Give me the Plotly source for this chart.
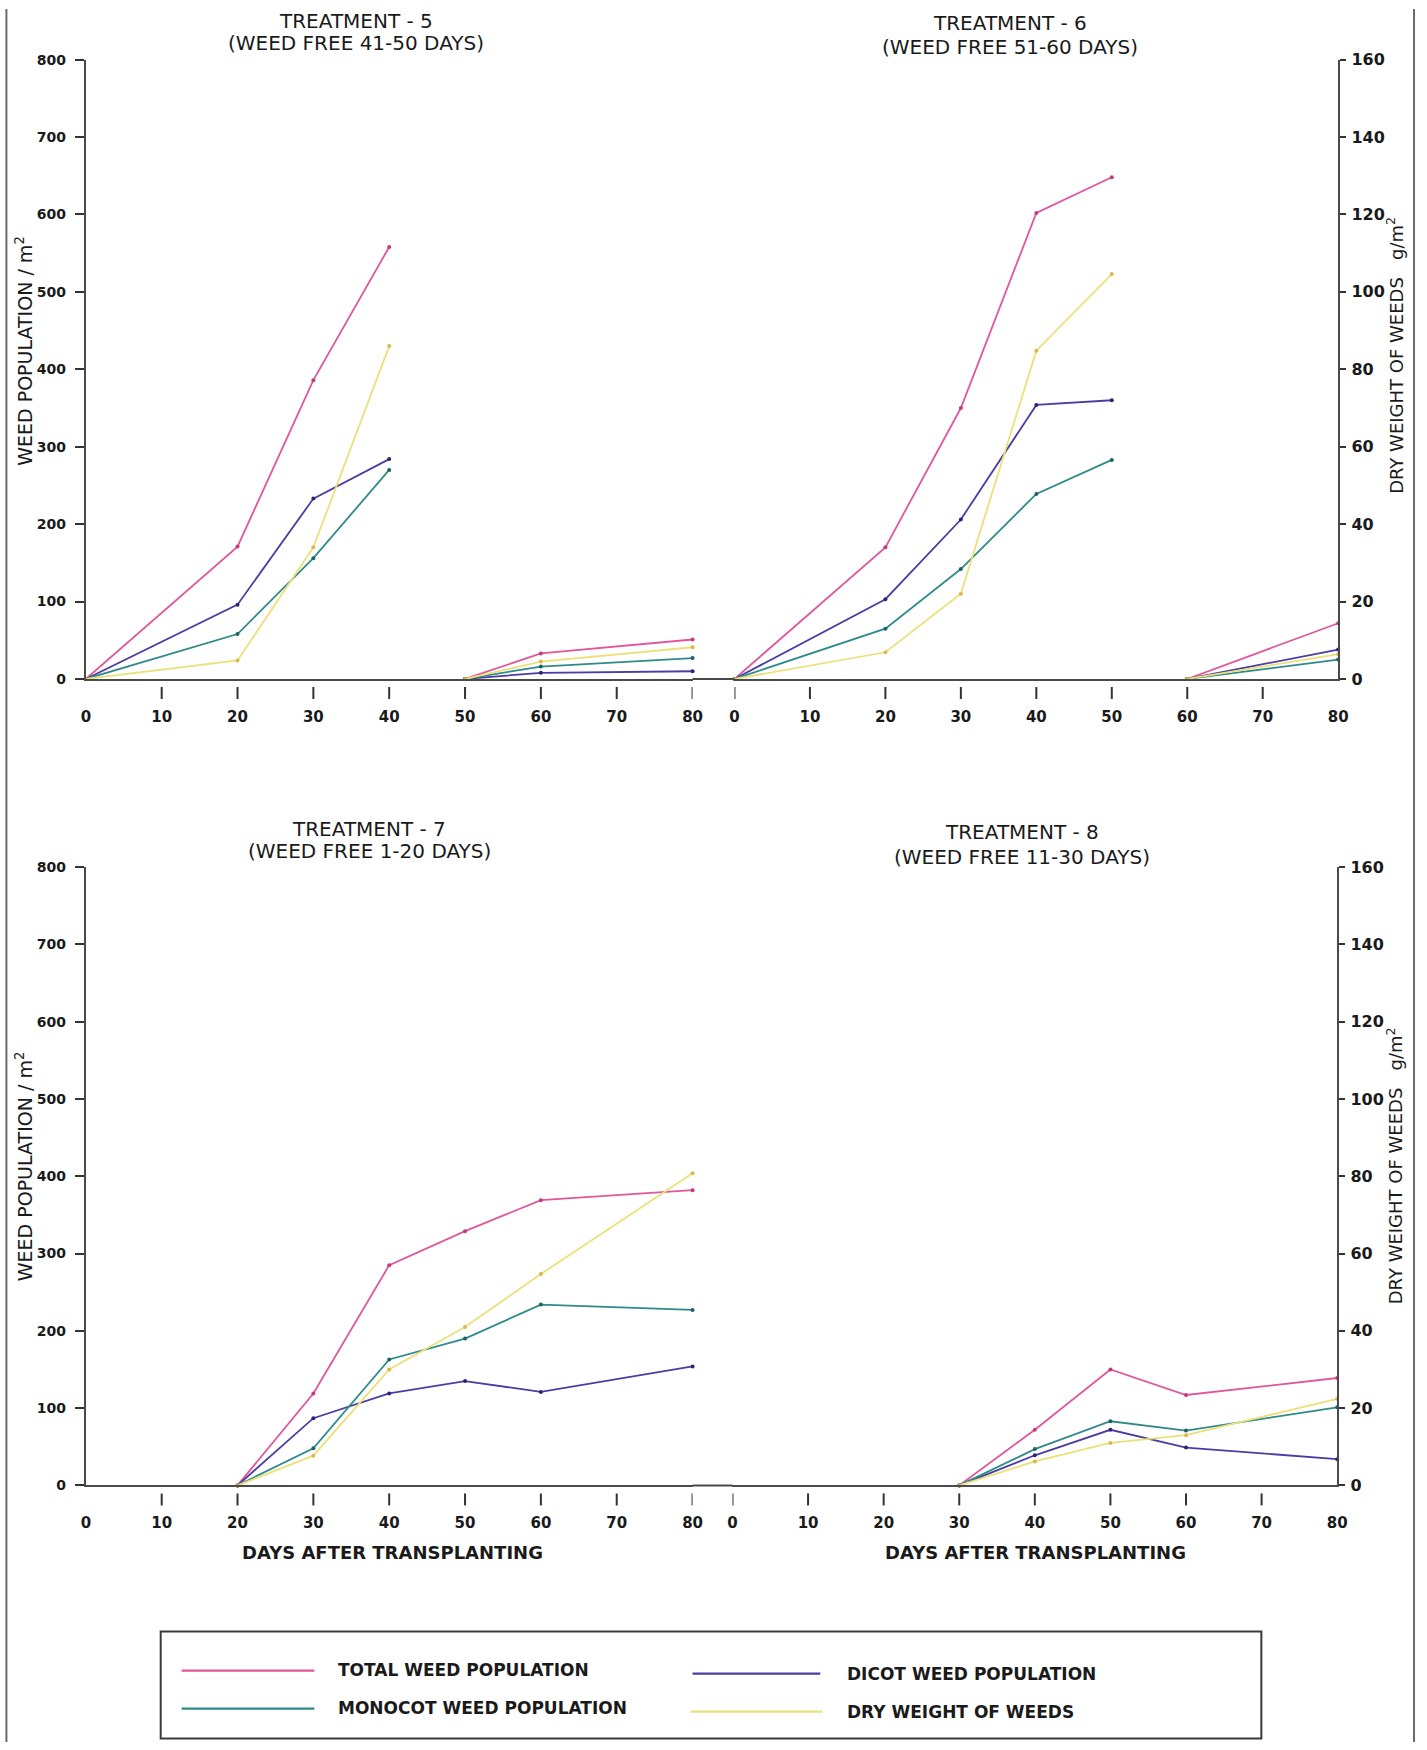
import plotly.graph_objects as go

# Measured from earlier renders: the captured picture maps a figure pixel f to
# about (f + M) * S in the final 1427x1750 picture.  Layout positions below are
# written in final-picture pixels and converted with that mapping.
SX, MX = 0.9916, 3.0
SY, MY = 0.9886, 8.5
W, H = 1427, 1752

# ---------------- data ----------------
day_ticks = [0, 10, 20, 30, 40, 50, 60, 70, 80]
pop_ticks = [0, 100, 200, 300, 400, 500, 600, 700, 800]
dry_ticks = [0, 20, 40, 60, 80, 100, 120, 140, 160]

series_names = ["TOTAL WEED POPULATION", "DICOT WEED POPULATION",
                "MONOCOT WEED POPULATION", "DRY WEIGHT OF WEEDS"]

# Treatment 5 (weed free 41-50 days): two segments
t5_days_a = [0, 20, 30, 40]
t5_days_b = [50, 60, 80]
t5_total_a = [0, 171, 386, 558]
t5_total_b = [0, 33, 51]
t5_dicot_a = [0, 96, 233, 284]
t5_dicot_b = [0, 8, 10]
t5_mono_a = [0, 58, 156, 270]
t5_mono_b = [0, 16, 27]
t5_dry_a = [0, 4.8, 34, 86]
t5_dry_b = [0, 4.5, 8.2]

# Treatment 6 (weed free 51-60 days)
t6_days_a = [0, 20, 30, 40, 50]
t6_days_b = [60, 80]
t6_total_a = [0, 170, 350, 602, 648]
t6_total_b = [0, 72]
t6_dicot_a = [0, 103, 206, 354, 360]
t6_dicot_b = [0, 38]
t6_mono_a = [0, 65, 142, 239, 283]
t6_mono_b = [0, 25]
t6_dry_a = [0, 6.9, 22, 84.8, 104.6]
t6_dry_b = [0, 6.4]

# Treatment 7 (weed free 1-20 days)
t7_days = [20, 30, 40, 50, 60, 80]
t7_total = [0, 119, 285, 329, 369, 382]
t7_dicot = [0, 87, 119, 135, 121, 154]
t7_mono = [0, 48, 163, 190, 234, 227]
t7_dry = [0, 7.7, 30, 41, 54.7, 80.8]

# Treatment 8 (weed free 11-30 days)
t8_days = [30, 40, 50, 60, 80]
t8_total = [0, 72, 150, 117, 139]
t8_dicot = [0, 39, 72, 49, 34]
t8_mono = [0, 47, 83, 71, 101]
t8_dry = [0, 6.2, 11, 13, 22.4]

titles = [("TREATMENT - 5", "(WEED FREE 41-50 DAYS)"),
          ("TREATMENT - 6", "(WEED FREE 51-60 DAYS)"),
          ("TREATMENT - 7", "(WEED FREE 1-20 DAYS)"),
          ("TREATMENT - 8", "(WEED FREE 11-30 DAYS)")]

# ---------------- styling ----------------
FONT = "DejaVu Sans"
INK = "#1a1a1a"
AXIS = "#4a4a4a"
LINE_COL = ["#e0579b", "#4b3ea3", "#2f8a8a", "#ebe07a"]
MARK_COL = ["#c43a7c", "#2e2472", "#1f6262", "#d9b94c"]


def fx(px):
    return (px / SX - MX) / W


def fy(py):
    return 1 - (py / SY - MY) / H


def seg(a, b):
    return a + [None] + b


panels = [
    dict(days=seg(t5_days_a, t5_days_b),
         pops=[seg(t5_total_a, t5_total_b), seg(t5_dicot_a, t5_dicot_b), seg(t5_mono_a, t5_mono_b)],
         dry=seg(t5_dry_a, t5_dry_b)),
    dict(days=seg(t6_days_a, t6_days_b),
         pops=[seg(t6_total_a, t6_total_b), seg(t6_dicot_a, t6_dicot_b), seg(t6_mono_a, t6_mono_b)],
         dry=seg(t6_dry_a, t6_dry_b)),
    dict(days=t7_days, pops=[t7_total, t7_dicot, t7_mono], dry=t7_dry),
    dict(days=t8_days, pops=[t8_total, t8_dicot, t8_mono], dry=t8_dry),
]

# picture-pixel geometry of the four plot areas: (x0, x80, y800, y0)
geo = [(84, 692, 59, 678), (734, 1339, 59, 678),
       (84, 692, 866, 1484), (732, 1338, 866, 1484)]

fig = go.Figure()
layout = dict(width=W, height=H, margin=dict(l=0, r=0, t=0, b=0),
              paper_bgcolor="white", plot_bgcolor="rgba(0,0,0,0)",
              showlegend=False, font=dict(family=FONT, color=INK))

shapes = []

for i, (p, g) in enumerate(zip(panels, geo)):
    xn = i + 1
    xid = "x" if xn == 1 else f"x{xn}"
    yp = 2 * i + 1
    yd = 2 * i + 2
    ypid = "y" if yp == 1 else f"y{yp}"
    ydid = f"y{yd}"
    xdom = [fx(g[0]), fx(g[1])]
    ydom = [fy(g[3]), fy(g[2])]
    right = (i % 2 == 1)

    for k in range(3):
        fig.add_trace(go.Scatter(x=p["days"], y=p["pops"][k], xaxis=xid, yaxis=ypid,
                                 mode="lines+markers", name=series_names[k],
                                 line=dict(color=LINE_COL[k], width=1.8),
                                 marker=dict(color=MARK_COL[k], size=4),
                                 cliponaxis=False, connectgaps=False))
    fig.add_trace(go.Scatter(x=p["days"], y=p["dry"], xaxis=xid, yaxis=ydid,
                             mode="lines+markers", name=series_names[3],
                             line=dict(color=LINE_COL[3], width=1.8),
                             marker=dict(color=MARK_COL[3], size=4),
                             cliponaxis=False, connectgaps=False))

    xkey = "xaxis" if xn == 1 else f"xaxis{xn}"
    layout[xkey] = dict(domain=xdom, range=[0, 80], anchor=ypid,
                        showline=True, linecolor=AXIS, linewidth=2,
                        tickmode="array", tickvals=day_ticks,
                        ticktext=[str(v) for v in day_ticks],
                        ticks="", ticklabelstandoff=23,
                        tickfont=dict(family=FONT, size=15, color=INK, weight="bold"),
                        showgrid=False, zeroline=False, fixedrange=True)

    # small detached tick marks below the day axis
    for v in day_ticks:
        if (right and v == 80) or ((not right) and v == 0):
            continue
        shapes.append(dict(type="line", xref=xid, yref="paper", x0=v, x1=v,
                           y0=fy(g[3] + 8), y1=fy(g[3] + 20),
                           line=dict(color="#333", width=2)))

    ypkey = "yaxis" if yp == 1 else f"yaxis{yp}"
    if not right:
        layout[ypkey] = dict(domain=ydom, range=[0, 800], anchor=xid,
                             showline=True, linecolor=AXIS, linewidth=2,
                             tickmode="array", tickvals=pop_ticks,
                             ticks="outside", ticklen=9, tickwidth=2, tickcolor="#333",
                             ticklabelstandoff=6,
                             tickfont=dict(family=FONT, size=14, color=INK, weight="bold"),
                             showgrid=False, zeroline=False)
        layout[f"yaxis{yd}"] = dict(range=[0, 160], overlaying=ypid, anchor=xid,
                                    visible=False, showgrid=False, zeroline=False)
    else:
        layout[ypkey] = dict(domain=ydom, range=[0, 800], anchor=xid,
                             visible=False, showgrid=False, zeroline=False)
        layout[f"yaxis{yd}"] = dict(range=[0, 160], overlaying=ypid, anchor=xid,
                                    side="right", showline=True, linecolor=AXIS, linewidth=2,
                                    tickmode="array", tickvals=dry_ticks,
                                    ticks="outside", ticklen=6, tickwidth=2, tickcolor="#333",
                                    ticklabelstandoff=2,
                                    tickfont=dict(family=FONT, size=16, color=INK, weight="bold"),
                                    showgrid=False, zeroline=False)

fig.update_layout(**layout)

# x axis bridges between the left and right plot areas
shapes.append(dict(type="line", xref="paper", yref="paper", x0=fx(692), x1=fx(734),
                   y0=fy(678), y1=fy(678), line=dict(color=AXIS, width=2)))
shapes.append(dict(type="line", xref="paper", yref="paper", x0=fx(692), x1=fx(732),
                   y0=fy(1484), y1=fy(1484), line=dict(color=AXIS, width=2)))
# page edges of the scanned sheet
shapes.append(dict(type="line", xref="paper", yref="paper", x0=0.001, x1=0.001,
                   y0=0, y1=1, line=dict(color="#6a6a6a", width=2)))
shapes.append(dict(type="line", xref="paper", yref="paper", x0=fx(1415), x1=fx(1415),
                   y0=0, y1=1, line=dict(color="#6a6a6a", width=2)))
# legend box
shapes.append(dict(type="rect", xref="paper", yref="paper", x0=fx(159), x1=fx(1262),
                   y0=0.002, y1=fy(1630), line=dict(color="#3a3a3a", width=2)))
leg_pos = [(180, 313, 1669), (692, 820, 1672), (180, 313, 1707), (690, 822, 1710)]
for k, (a, b, yy) in enumerate(leg_pos):
    shapes.append(dict(type="line", xref="paper", yref="paper", x0=fx(a), x1=fx(b),
                       y0=fy(yy), y1=fy(yy), line=dict(color=LINE_COL[k], width=2.2)))

annotations = []
title_pos = [(355, 20, 42), (1010, 22, 46), (368, 828, 850), (1022, 831, 856)]
for (t1, t2), (cx, y1, y2) in zip(titles, title_pos):
    annotations.append(dict(text=t1, x=fx(cx), y=fy(y1), xref="paper", yref="paper",
                            showarrow=False, xanchor="center", yanchor="middle",
                            font=dict(family=FONT, size=20, color=INK)))
    annotations.append(dict(text=t2, x=fx(cx), y=fy(y2), xref="paper", yref="paper",
                            showarrow=False, xanchor="center", yanchor="middle",
                            font=dict(family=FONT, size=20, color=INK)))

for cy in (350, 1165):
    annotations.append(dict(text="WEED POPULATION / m<sup>2</sup>", x=fx(22), y=fy(cy),
                            xref="paper", yref="paper", showarrow=False, textangle=-90,
                            xanchor="center", yanchor="middle",
                            font=dict(family=FONT, size=19, color=INK)))
for cy in (355, 1165):
    annotations.append(dict(text="DRY WEIGHT OF WEEDS\u00a0\u00a0\u00a0g/m<sup>2</sup>", x=fx(1396), y=fy(cy),
                            xref="paper", yref="paper", showarrow=False, textangle=-90,
                            xanchor="center", yanchor="middle",
                            font=dict(family=FONT, size=18, color=INK)))
for cx in (391, 1036):
    annotations.append(dict(text="DAYS AFTER TRANSPLANTING", x=fx(cx), y=fy(1551),
                            xref="paper", yref="paper", showarrow=False,
                            xanchor="center", yanchor="middle",
                            font=dict(family=FONT, size=18, color=INK, weight="bold")))

leg_text = [(335, 1668), (845, 1672), (335, 1706), (845, 1710)]
for k, (tx, ty) in enumerate(leg_text):
    annotations.append(dict(text=series_names[k], x=fx(tx), y=fy(ty), xref="paper", yref="paper",
                            showarrow=False, xanchor="left", yanchor="middle",
                            font=dict(family=FONT, size=17, color=INK, weight="bold")))

fig.update_layout(shapes=shapes, annotations=annotations)
fig.write_html("out.html")
